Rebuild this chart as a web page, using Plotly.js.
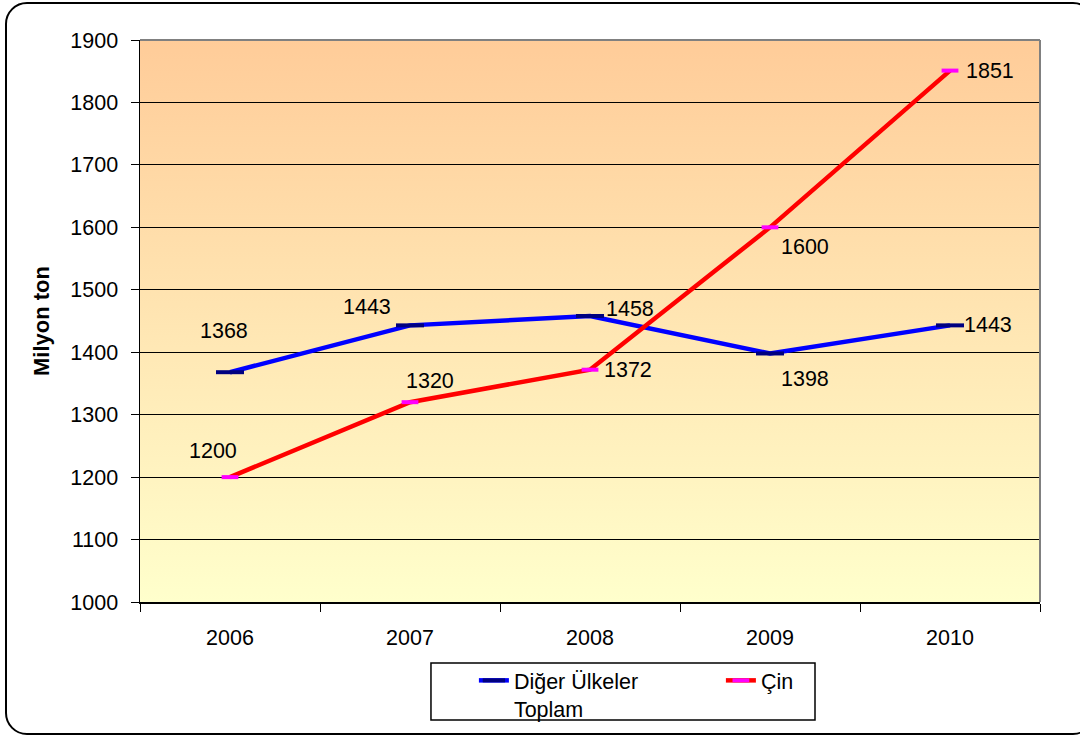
<!DOCTYPE html>
<html>
<head>
<meta charset="utf-8">
<script src="https://cdn.plot.ly/plotly-3.0.1.min.js"></script>
<style>
html, body { margin:0; padding:0; background:#fff; width:1080px; height:737px; overflow:hidden; }
#frame { position:absolute; left:5px; top:2px; width:1086px; height:729px; border:2px solid #000; border-radius:22px; }
#chart { position:absolute; left:0; top:0; width:1080px; height:737px; }
</style>
</head>
<body>
<div id="frame"></div>
<div id="chart"></div>
<script>
const years = ['2006', '2007', '2008', '2009', '2010'];
const digerUlkeler = [1368, 1443, 1458, 1398, 1443];
const cin = [1200, 1320, 1372, 1600, 1851];
const seriesNames = ['Diğer Ülkeler<br>Toplam', 'Çin'];
const yTicks = [1000, 1100, 1200, 1300, 1400, 1500, 1600, 1700, 1800, 1900];

// label offsets (pixels) per point
const blueShift = [[-6, 41], [-43, 18], [40, 7], [35, -26], [38, 0]];
const redShift = [[-17, 26], [20, 21], [38, 0], [35, -20], [40, 0]];

const font = 'Liberation Sans, Arial, sans-serif';
const fs = 21.5;

const traces = [
  {
    x: years, y: digerUlkeler, name: seriesNames[0], type: 'scatter', mode: 'lines+markers',
    line: {color: '#0000FF', width: 4.5},
    marker: {symbol: 'line-ew', size: 20, line: {color: '#000080', width: 4}},
    cliponaxis: false
  },
  {
    x: years, y: cin, name: seriesNames[1], type: 'scatter', mode: 'lines+markers',
    line: {color: '#FF0000', width: 4.5},
    marker: {symbol: 'line-ew', size: 12, line: {color: '#FF00FF', width: 4}},
    cliponaxis: false
  }
];

const annotations = [];
years.forEach((yr, i) => {
  annotations.push({x: i, y: digerUlkeler[i], text: String(digerUlkeler[i]), showarrow: false,
    xshift: blueShift[i][0], yshift: blueShift[i][1], font: {family: font, size: fs, color: '#000'}});
  annotations.push({x: i, y: cin[i], text: String(cin[i]), showarrow: false,
    xshift: redShift[i][0], yshift: redShift[i][1], font: {family: font, size: fs, color: '#000'}});
});

const grad = '<svg xmlns="http://www.w3.org/2000/svg" width="100" height="100" preserveAspectRatio="none">' +
  '<defs><linearGradient id="g" x1="0" y1="0" x2="0" y2="1">' +
  '<stop offset="0" stop-color="#FFCC99"/><stop offset="1" stop-color="#FFFFCC"/>' +
  '</linearGradient></defs><rect width="100" height="100" fill="url(#g)"/></svg>';

const layout = {
  width: 1080, height: 737,
  margin: {l: 140, r: 40, t: 40, b: 135, autoexpand: false},
  paper_bgcolor: 'rgba(0,0,0,0)',
  plot_bgcolor: 'rgba(0,0,0,0)',
  font: {family: font, size: fs, color: '#000'},
  showlegend: true,
  images: [{
    source: 'data:image/svg+xml;charset=utf-8,' + encodeURIComponent(grad),
    xref: 'paper', yref: 'paper', x: 0, y: 1, sizex: 1, sizey: 1,
    sizing: 'stretch', xanchor: 'left', yanchor: 'top', layer: 'below'
  }],
  xaxis: {
    type: 'category', range: [-0.5, years.length - 0.5], autorange: false,
    tickson: 'boundaries', ticks: 'outside', ticklen: 8, tickcolor: '#000', tickangle: 0,
    showline: true, linecolor: '#000', linewidth: 1.5, showgrid: false, zeroline: false,
    ticklabelstandoff: 16, tickfont: {family: font, size: fs}
  },
  yaxis: {
    range: [1000, 1900], autorange: false, tickvals: yTicks, ticks: 'outside', ticklen: 8, tickcolor: '#000',
    showline: true, linecolor: '#000', linewidth: 1.5, showgrid: true, gridcolor: '#000', gridwidth: 1,
    zeroline: false, ticklabelstandoff: 8, tickfont: {family: font, size: fs},
    title: {text: '<b>Milyon ton</b>', font: {family: font, size: 22}, standoff: 14}
  },
  shapes: [
    {type: 'line', xref: 'paper', yref: 'paper', x0: 0, x1: 1, y0: 1, y1: 1, line: {color: '#808080', width: 2}},
    {type: 'line', xref: 'paper', yref: 'paper', x0: 1, x1: 1, y0: 0, y1: 1, line: {color: '#808080', width: 2}},
    {type: 'rect', xref: 'paper', yref: 'paper', x0: 0.3233, x1: 0.75, y0: -0.21, y1: -0.1085,
     line: {color: '#000', width: 1.5}, fillcolor: 'rgba(0,0,0,0)'}
  ],
  legend: {
    orientation: 'h', x: 0.371, xanchor: 'left', y: -0.103, yanchor: 'top',
    borderwidth: 0, bgcolor: 'rgba(0,0,0,0)', valign: 'top',
    font: {family: font, size: fs}, entrywidth: 202, tracegroupgap: 0
  },
  annotations: annotations
};

Plotly.newPlot('chart', traces, layout, {displayModeBar: false, staticPlot: true});
</script>
</body>
</html>
